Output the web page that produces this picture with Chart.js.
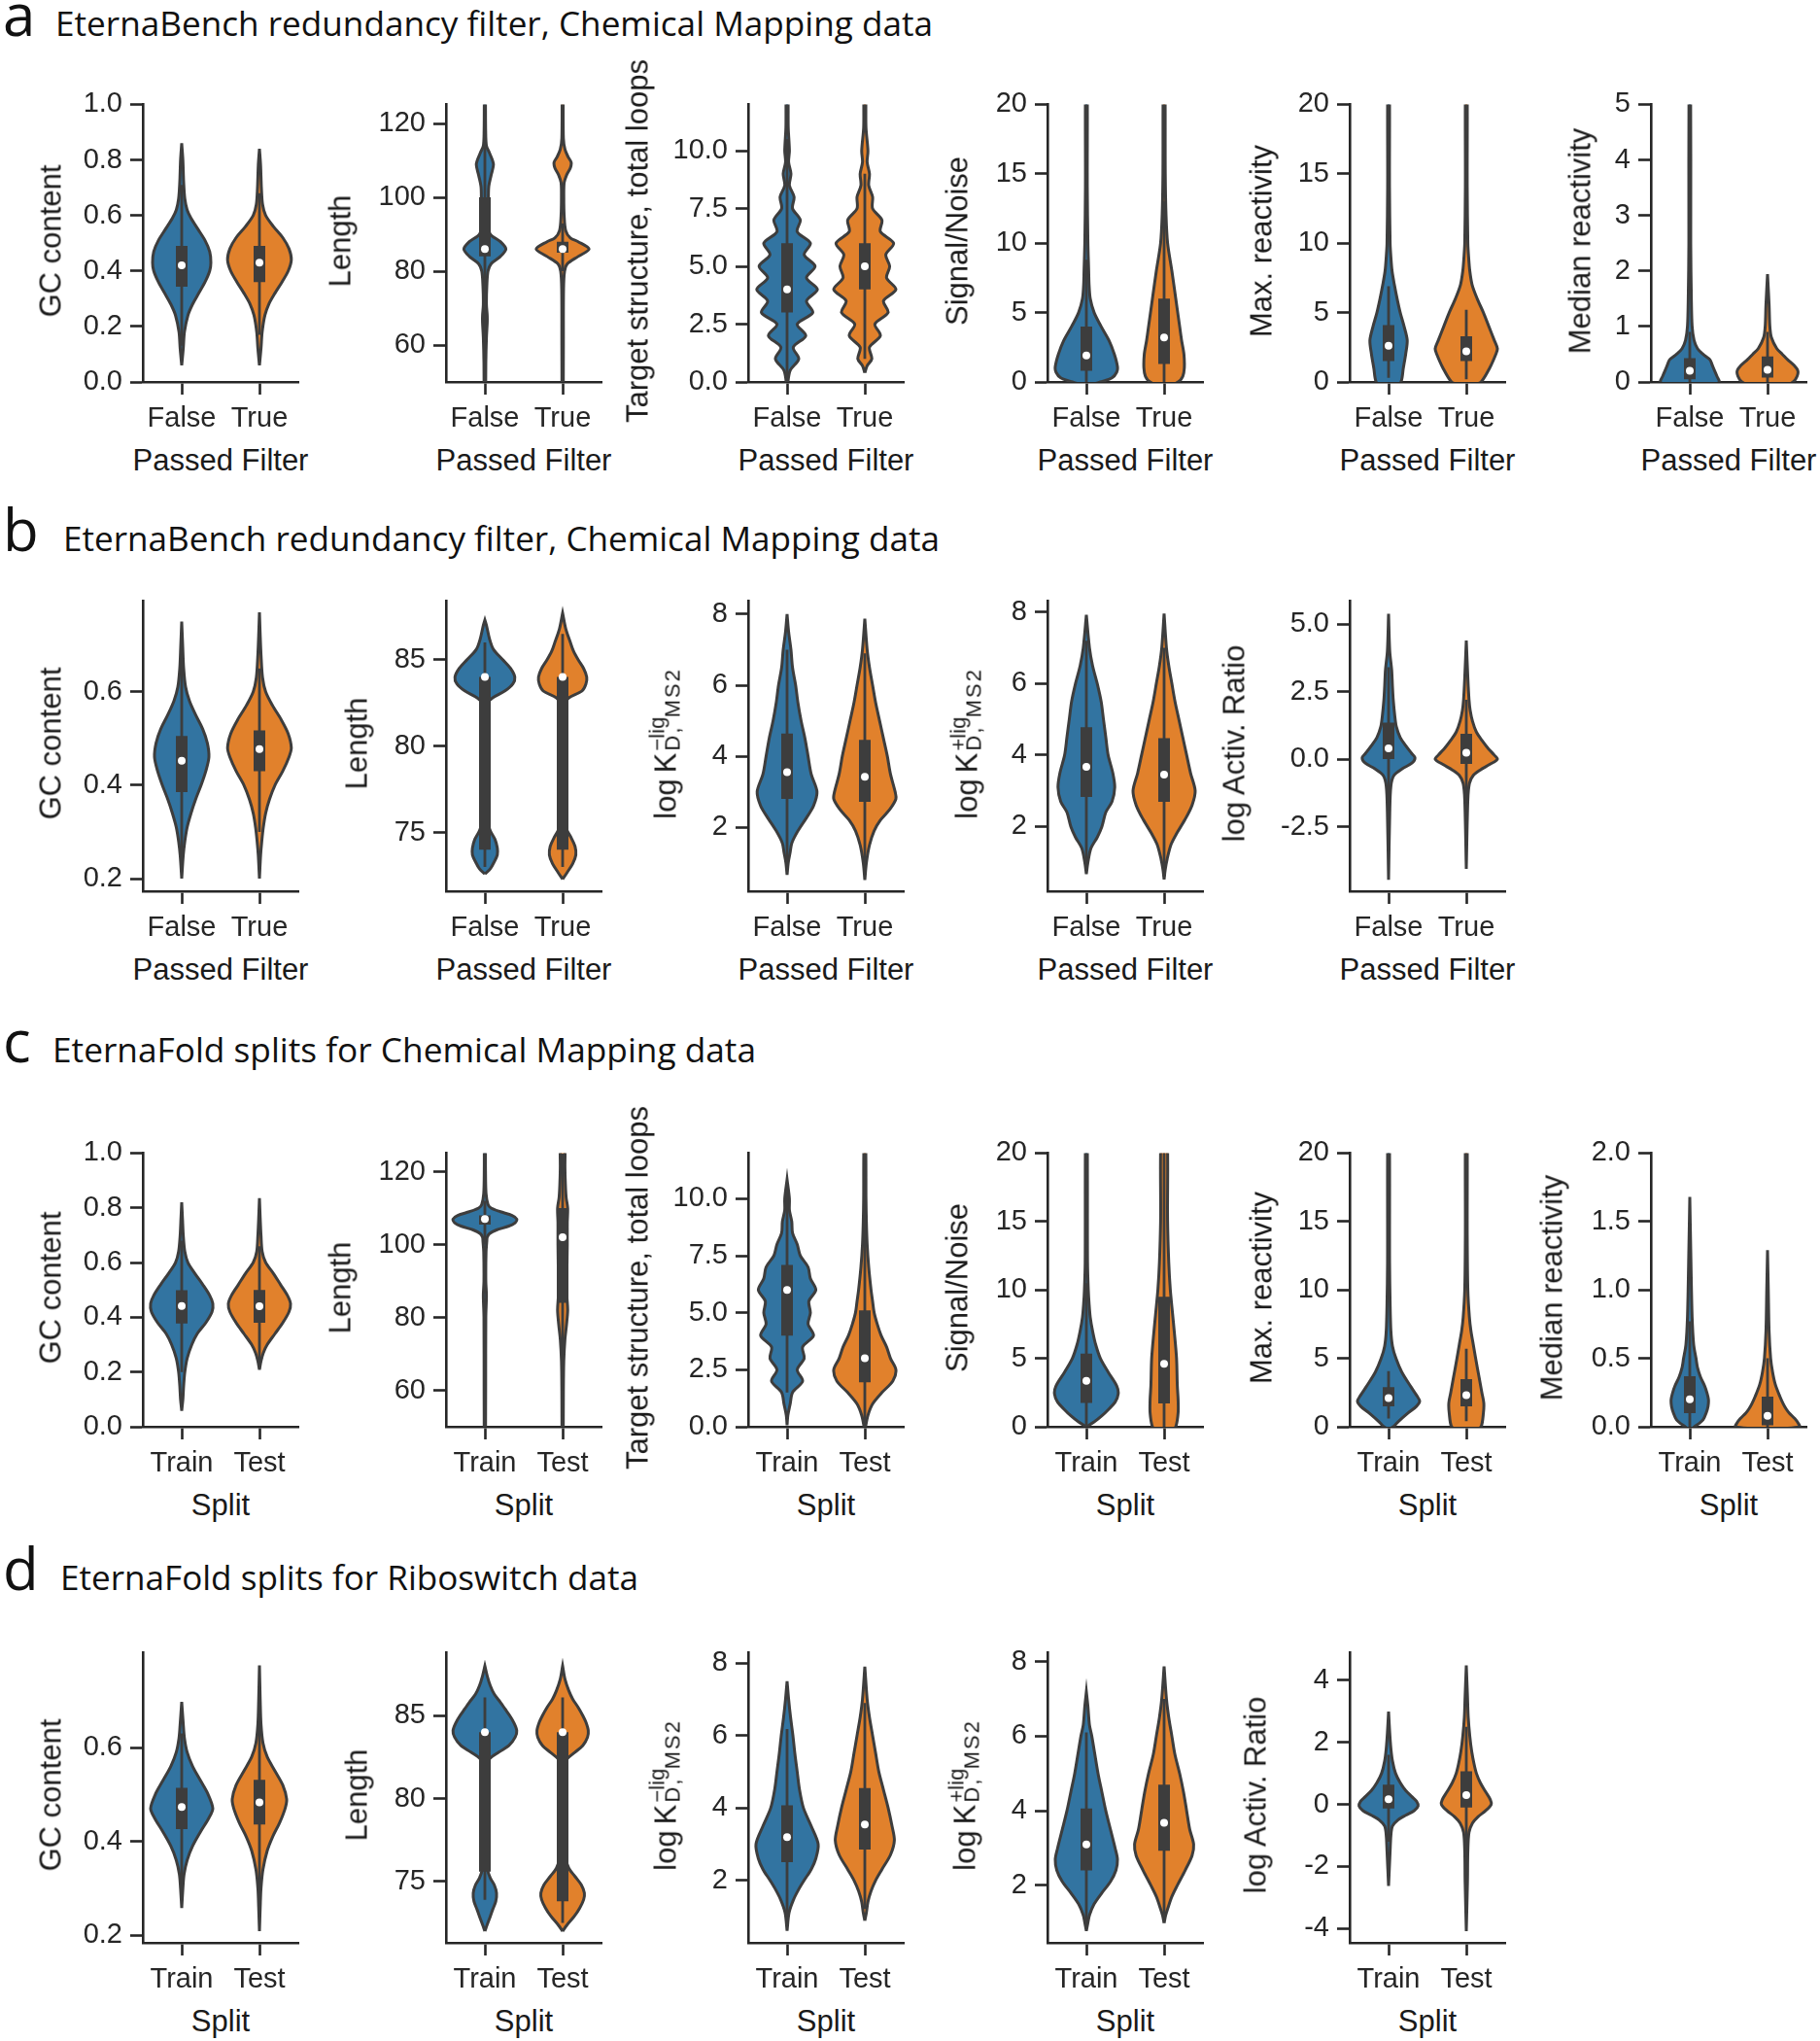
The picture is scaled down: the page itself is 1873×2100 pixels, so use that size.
<!DOCTYPE html>
<html>
<head>
<meta charset="utf-8">
<title>EternaBench / EternaFold violin plots</title>
<script src="https://cdn.jsdelivr.net/npm/chart.js@4.4.1/dist/chart.umd.min.js"></script>
<style>
  body { margin: 0; background: #fff; width: 1873px; height: 2100px; position: relative; overflow: hidden;
         font-family: 'Liberation Sans', Arial, sans-serif; color: #1a1a1a; }
  canvas.panel { position: absolute; }
  .txt { position: absolute; white-space: nowrap; }
  .letter { font-family: 'Open Sans', sans-serif; font-size: 60px; line-height: 60px; color: #111; }
  .rowtitle { font-family: 'Open Sans', sans-serif; font-size: 35px; line-height: 35px; color: #111; transform-origin: 0 0; }
  .ytitle { font-size: 31px; line-height: 31px; height: 31px; transform: translate(-50%, -50%) rotate(-90deg); }
  .xtitle { font-size: 31px; line-height: 31px; transform: translate(-50%, -50%); }
  .ss { display: inline-block; font-size: 22px; line-height: 16px; vertical-align: -4px; margin-left: 2px; }
  .ss span { display: block; }
  .ss span.sub { letter-spacing: 2px; }
</style>
</head>
<body>
<script>
// categories
const passedCats = ['False', 'True'];
const splitCats  = ['Train', 'Test'];

// violin profiles: [value, half width in category units]
// box stats: [whisker low, q1, median, q3, whisker high]

// ---- a: EternaBench filter, chemical mapping
const aGcTicks  = ['0.0', '0.2', '0.4', '0.6', '0.8', '1.0'];
const aGcFalse  = [[0.06,0],[0.12,0.02],[0.18,0.035],[0.24,0.08],[0.28,0.14],[0.32,0.22],[0.36,0.30],[0.40,0.36],[0.43,0.375],[0.47,0.36],[0.51,0.30],[0.55,0.21],[0.59,0.12],[0.62,0.07],[0.66,0.04],[0.72,0.025],[0.80,0.015],[0.86,0]];
const aGcTrue   = [[0.06,0],[0.12,0.02],[0.18,0.035],[0.24,0.07],[0.28,0.12],[0.32,0.20],[0.36,0.29],[0.40,0.37],[0.44,0.41],[0.48,0.38],[0.52,0.30],[0.56,0.18],[0.60,0.08],[0.64,0.04],[0.70,0.025],[0.78,0.015],[0.84,0]];
const aGcBox    = [[0.13,0.343,0.42,0.49,0.71],[0.17,0.36,0.43,0.49,0.68]];

const aLenTicks = ['60', '80', '100', '120'];
const aLenFalse = [[45,0.01],[55,0.012],[62,0.02],[66,0.03],[68,0.03],[71,0.02],[76,0.025],[80,0.04],[82,0.08],[84,0.2],[86,0.27],[88,0.2],[90,0.07],[93,0.04],[97,0.04],[100,0.045],[103,0.05],[106,0.08],[109,0.11],[112,0.06],[114,0.02],[118,0.01],[130,0.005]];
const aLenTrue  = [[45,0.008],[60,0.01],[75,0.012],[80,0.025],[82,0.06],[84,0.2],[86,0.34],[88,0.2],[89,0.1],[91,0.04],[95,0.02],[100,0.015],[104,0.02],[106,0.05],[108,0.1],[109.5,0.11],[111,0.07],[113,0.03],[116,0.01],[130,0.005]];
const aLenBox   = [[60,84,86,100,124],[80,85,86,88,93]];

const aLoopTicks = ['0.0', '2.5', '5.0', '7.5', '10.0'];
const aLoopFalse = [[-0.2,0],[0,0.01],[0.5,0.04],[1,0.15],[1.5,0.08],[2,0.24],[2.5,0.13],[3,0.33],[3.5,0.25],[4,0.39],[4.5,0.25],[5,0.36],[5.5,0.22],[6,0.30],[6.5,0.13],[7,0.17],[7.5,0.07],[8,0.09],[8.5,0.03],[9,0.05],[9.5,0.02],[10,0.03],[11,0.015],[12.5,0.01]];
const aLoopTrue  = [[0.4,0],[0.7,0.03],[1,0.09],[1.5,0.06],[2,0.2],[2.5,0.13],[3,0.30],[3.5,0.24],[4,0.40],[4.5,0.28],[5,0.32],[5.5,0.27],[6,0.37],[6.5,0.2],[7,0.22],[7.5,0.1],[8,0.1],[8.5,0.05],[9,0.06],[9.5,0.03],[10,0.04],[11,0.015],[12.5,0.01]];
const aLoopBox   = [[0,3,4,6,10.5],[1,4,5,6,9]];

const aSnTicks  = ['0', '5', '10', '15', '20'];
const aSnFalse  = [[-0.3,0],[0,0.18],[0.3,0.33],[0.7,0.39],[1.1,0.40],[2,0.36],[3,0.29],[4,0.19],[5,0.1],[6,0.05],[7,0.035],[8,0.03],[10,0.02],[14,0.012],[22,0.01]];
const aSnTrue   = [[-0.5,0],[0,0.18],[0.4,0.24],[1,0.26],[2,0.255],[3,0.225],[4,0.2],[6,0.15],[8,0.1],[10,0.045],[12,0.025],[15,0.015],[22,0.01]];
const aSnBox    = [[0,0.8,1.9,4,8.8],[0,1.3,3.2,6,13]];

const aMaxTicks = ['0', '5', '10', '15', '20'];
const aMaxFalse = [[-0.5,0],[-0.2,0.1],[0,0.16],[1,0.19],[2,0.22],[3,0.24],[4,0.2],[5,0.15],[6,0.11],[7,0.075],[8,0.045],[9,0.03],[10,0.02],[14,0.012],[22,0.01]];
const aMaxTrue  = [[-0.5,0],[-0.2,0.1],[0,0.19],[1,0.3],[2,0.38],[2.4,0.40],[3,0.36],[4,0.29],[5,0.22],[6,0.14],[7,0.075],[8,0.045],[9,0.03],[10,0.02],[14,0.012],[22,0.01]];
const aMaxBox   = [[0.3,1.5,2.6,4.1,6.9],[0.2,1.5,2.2,3.3,5.2]];

const aMedTicks = ['0', '1', '2', '3', '4', '5'];
const aMedFalse = [[-0.15,0],[-0.05,0.3],[0,0.38],[0.1,0.35],[0.2,0.32],[0.3,0.29],[0.4,0.26],[0.5,0.17],[0.6,0.1],[0.75,0.055],[1,0.03],[1.5,0.02],[2.5,0.012],[5.5,0.01]];
const aMedTrue  = [[-0.15,0],[-0.05,0.25],[0,0.33],[0.1,0.38],[0.2,0.39],[0.3,0.34],[0.4,0.26],[0.5,0.19],[0.6,0.12],[0.8,0.05],[1,0.03],[1.4,0.02],[1.94,0]];
const aMedBox   = [[0,0.05,0.2,0.43,0.9],[0,0.08,0.22,0.46,0.9]];

// ---- b: EternaBench filter, riboswitch
const bGcTicks  = ['0.2', '0.4', '0.6'];
const bGcFalse  = [[0.20,0],[0.25,0.02],[0.28,0.04],[0.31,0.07],[0.34,0.12],[0.37,0.18],[0.40,0.25],[0.43,0.31],[0.46,0.35],[0.49,0.33],[0.52,0.27],[0.55,0.18],[0.58,0.1],[0.61,0.05],[0.65,0.025],[0.70,0.012],[0.75,0]];
const bGcTrue   = [[0.20,0],[0.25,0.015],[0.28,0.03],[0.31,0.05],[0.34,0.08],[0.37,0.13],[0.40,0.2],[0.43,0.3],[0.46,0.38],[0.48,0.41],[0.51,0.37],[0.54,0.28],[0.57,0.17],[0.60,0.08],[0.63,0.04],[0.68,0.02],[0.72,0.01],[0.77,0]];
const bGcBox    = [[0.23,0.385,0.452,0.505,0.68],[0.3,0.43,0.477,0.517,0.65]];

const bLenTicks = ['75', '80', '85'];
const bLenFalse = [[72.6,0],[72.9,0.07],[73.3,0.12],[73.7,0.16],[74.1,0.16],[74.6,0.13],[75.1,0.07],[75.7,0.03],[77,0.02],[80,0.015],[82,0.02],[82.5,0.035],[82.8,0.1],[83.2,0.26],[83.6,0.36],[84,0.385],[84.5,0.33],[85,0.23],[85.6,0.11],[86.2,0.06],[87,0.02],[87.3,0]];
const bLenTrue  = [[72.3,0],[72.7,0.06],[73.2,0.13],[73.7,0.17],[74.2,0.16],[74.7,0.11],[75.2,0.05],[76,0.025],[78,0.015],[81,0.015],[82,0.02],[82.5,0.035],[82.8,0.08],[83.2,0.25],[83.6,0.3],[84,0.31],[84.5,0.27],[85,0.2],[85.5,0.14],[86,0.1],[86.8,0.04],[87.7,0]];
const bLenBox   = [[73,74,84,84,86],[73,74,84,84,86.5]];

const bKmTicks  = ['2', '4', '6', '8'];
const bKmFalse  = [[0.66,0],[1,0.015],[1.3,0.04],[1.55,0.06],[1.9,0.14],[2.27,0.25],[2.6,0.34],[3,0.385],[3.5,0.31],[4,0.27],[4.5,0.23],[5,0.18],[5.5,0.14],[6,0.11],[6.5,0.07],[7,0.05],[7.5,0.02],[8,0]];
const bKmTrue   = [[0.52,0],[1,0.02],[1.5,0.06],[1.9,0.12],[2.2,0.2],[2.5,0.32],[2.8,0.4],[3,0.39],[3.5,0.33],[4,0.29],[4.5,0.24],[5,0.19],[5.5,0.14],[6,0.1],[6.5,0.06],[7,0.03],[7.87,0]];
const bKmBox    = [[0.9,2.8,3.55,4.64,7],[0.8,2.72,3.42,4.46,6.9]];

const bKpTicks  = ['2', '4', '6', '8'];
const bKpFalse  = [[0.67,0],[1,0.02],[1.4,0.06],[1.7,0.14],[2,0.2],[2.4,0.25],[2.7,0.33],[3.1,0.365],[3.5,0.34],[4,0.28],[4.5,0.25],[5,0.22],[5.5,0.19],[6,0.14],[6.5,0.08],[7,0.04],[7.92,0]];
const bKpTrue   = [[0.52,0],[0.8,0.015],[1.1,0.04],[1.5,0.09],[1.8,0.16],[2.2,0.27],[2.6,0.36],[3,0.40],[3.5,0.34],[4,0.29],[4.5,0.24],[5,0.19],[5.5,0.14],[6,0.1],[6.5,0.06],[7,0.03],[7.96,0]];
const bKpBox    = [[0.8,2.83,3.67,4.78,7.2],[0.6,2.69,3.45,4.47,7]];

const bArTicks  = ['-2.5', '0.0', '2.5', '5.0'];
const bArFalse  = [[-4.47,0],[-2,0.015],[-1,0.03],[-0.6,0.07],[-0.35,0.18],[-0.15,0.3],[0.05,0.34],[0.2,0.3],[0.5,0.22],[0.8,0.15],[1.2,0.1],[1.6,0.08],[2.2,0.06],[2.7,0.05],[3.3,0.04],[4,0.015],[5.38,0]];
const bArTrue   = [[-4.06,0],[-1.5,0.02],[-0.9,0.04],[-0.6,0.09],[-0.4,0.18],[-0.2,0.3],[0,0.40],[0.15,0.36],[0.4,0.28],[0.7,0.2],[1.0,0.13],[1.4,0.08],[1.8,0.05],[2.2,0.035],[3,0.02],[4.39,0]];
const bArBox    = [[-1.9,0,0.4,1.35,3.4],[-1.6,-0.18,0.235,0.94,2.2]];

// ---- c: EternaFold splits, chemical mapping
const cGcTrain  = [[0.058,0],[0.1,0.015],[0.15,0.025],[0.2,0.04],[0.25,0.07],[0.3,0.13],[0.34,0.2],[0.38,0.31],[0.42,0.39],[0.45,0.4],[0.48,0.36],[0.52,0.27],[0.56,0.17],[0.6,0.08],[0.64,0.04],[0.7,0.02],[0.76,0.01],[0.82,0]];
const cGcTest   = [[0.209,0],[0.24,0.02],[0.27,0.05],[0.3,0.1],[0.34,0.2],[0.38,0.3],[0.42,0.38],[0.45,0.4],[0.48,0.36],[0.52,0.27],[0.56,0.18],[0.6,0.08],[0.64,0.035],[0.7,0.02],[0.76,0.01],[0.835,0]];
const cGcBox    = [[0.2,0.377,0.441,0.499,0.68],[0.22,0.38,0.44,0.5,0.66]];

const cLenTrain = [[45,0.008],[60,0.01],[80,0.012],[86,0.02],[90,0.012],[98,0.015],[101,0.025],[102,0.03],[103,0.06],[104,0.15],[105,0.3],[106,0.39],[107,0.41],[108,0.35],[109,0.2],[110,0.08],[111,0.04],[114,0.015],[120,0.008],[130,0.005]];
const cLenTest  = [[45,0.008],[60,0.01],[68,0.015],[74,0.03],[78,0.05],[82,0.065],[86,0.055],[92,0.055],[100,0.06],[106,0.06],[110,0.065],[113,0.045],[117,0.035],[121,0.03],[130,0.025]];
const cLenBox   = [[100,105.5,107,108,112],[60,84,102,110,125]];

const cLoopTrain = [[0.07,0],[0.5,0.01],[1,0.04],[1.5,0.07],[2,0.2],[2.5,0.13],[3,0.22],[3.5,0.2],[4,0.34],[4.5,0.27],[5,0.3],[5.5,0.28],[6,0.37],[6.5,0.3],[7,0.27],[7.5,0.17],[8,0.13],[8.5,0.07],[9,0.06],[9.5,0.03],[10,0.03],[10.84,0]];
const cLoopTest  = [[-0.3,0],[0,0.01],[0.5,0.04],[1,0.1],[1.5,0.22],[2,0.36],[2.5,0.40],[3,0.33],[3.5,0.28],[4,0.21],[4.5,0.16],[5,0.12],[5.5,0.1],[6,0.08],[7,0.05],[8,0.03],[9,0.02],[10,0.015],[12.5,0.01]];
const cLoopBox   = [[1.5,4,6,7.1,10.5],[0,1.95,3,5.1,9.5]];

const cSnTrain  = [[0,0],[0.35,0.1],[0.8,0.2],[1.3,0.29],[1.8,0.37],[2.4,0.41],[3,0.39],[4,0.28],[5,0.18],[6,0.12],[7,0.08],[8,0.05],[9,0.035],[10,0.025],[12,0.015],[22,0.01]];
const cSnTest   = [[-0.5,0],[-0.2,0.1],[0,0.15],[1,0.18],[2,0.18],[3,0.17],[5,0.16],[7,0.13],[8.2,0.11],[10,0.08],[12,0.06],[15,0.045],[22,0.035]];
const cSnBox    = [[0,1.74,3.36,5.34,10.5],[0,1.7,4.6,9.5,20.5]];

const cMaxTrain = [[-0.2,0],[0,0.06],[0.35,0.12],[1,0.25],[1.5,0.36],[1.86,0.40],[2.3,0.36],[2.9,0.29],[4,0.17],[5,0.095],[5.9,0.05],[7,0.03],[9,0.02],[12,0.013],[22,0.01]];
const cMaxTest  = [[-0.5,0],[-0.2,0.12],[0,0.19],[1,0.22],[1.74,0.225],[2.5,0.2],[3.6,0.165],[5,0.12],[6,0.09],[7,0.06],[8,0.04],[10,0.02],[14,0.012],[22,0.01]];
const cMaxBox   = [[0.6,1.5,2.1,2.9,4.06],[0.4,1.5,2.3,3.48,5.7]];

const cMedTicks = ['0.0', '0.5', '1.0', '1.5', '2.0'];
const cMedTrain = [[-0.03,0],[0,0.06],[0.02,0.11],[0.05,0.17],[0.1,0.21],[0.15,0.235],[0.2,0.24],[0.25,0.22],[0.3,0.19],[0.36,0.14],[0.43,0.1],[0.5,0.08],[0.6,0.05],[0.8,0.03],[1.2,0.015],[1.68,0]];
const cMedTest  = [[-0.02,0],[0,0.41],[0.03,0.39],[0.06,0.35],[0.1,0.28],[0.13,0.24],[0.17,0.2],[0.22,0.16],[0.31,0.1],[0.4,0.065],[0.5,0.04],[0.7,0.02],[1.0,0.01],[1.29,0]];
const cMedBox   = [[0,0.1,0.2,0.37,0.77],[0,0.01,0.08,0.22,0.5]];

// ---- d: EternaFold splits, riboswitch
const dGcTicks  = ['0.2', '0.4', '0.6'];
const dGcTrain  = [[0.258,0],[0.3,0.015],[0.33,0.03],[0.36,0.07],[0.39,0.14],[0.42,0.24],[0.45,0.35],[0.47,0.40],[0.5,0.34],[0.53,0.24],[0.56,0.14],[0.59,0.07],[0.62,0.035],[0.65,0.02],[0.697,0]];
const dGcTest   = [[0.209,0],[0.26,0.01],[0.3,0.02],[0.34,0.045],[0.38,0.1],[0.41,0.17],[0.44,0.26],[0.47,0.33],[0.49,0.35],[0.52,0.3],[0.55,0.2],[0.58,0.1],[0.61,0.045],[0.65,0.02],[0.7,0.01],[0.775,0]];
const dGcBox    = [[0.31,0.426,0.473,0.514,0.63],[0.29,0.436,0.483,0.531,0.67]];

const dLenTicks = ['75', '80', '85'];
const dLenTrain = [[72,0],[72.4,0.03],[72.9,0.07],[73.3,0.1],[73.8,0.14],[74.3,0.15],[74.8,0.12],[75.2,0.07],[75.7,0.035],[77,0.02],[80,0.015],[82,0.02],[82.4,0.06],[82.8,0.18],[83.2,0.31],[83.7,0.39],[84.1,0.41],[84.6,0.37],[85,0.32],[85.4,0.26],[85.8,0.2],[86.3,0.12],[86.8,0.07],[87.4,0.03],[88,0]];
const dLenTest  = [[72,0],[72.4,0.06],[72.9,0.15],[73.4,0.22],[73.9,0.27],[74.3,0.28],[74.8,0.24],[75.3,0.16],[75.8,0.08],[76.4,0.04],[77.5,0.02],[80,0.015],[82,0.02],[82.4,0.06],[82.8,0.16],[83.2,0.26],[83.7,0.32],[84.1,0.33],[84.6,0.3],[85,0.26],[85.5,0.2],[86,0.13],[86.5,0.08],[87.2,0.03],[88,0]];
const dLenBox   = [[73.9,75.6,84,84,86.1],[72.5,73.8,84,84,86.1]];

const dKmTicks  = ['2', '4', '6', '8'];
const dKmTrain  = [[0.6,0],[1.1,0.025],[1.45,0.08],[1.75,0.15],[2,0.22],[2.3,0.31],[2.6,0.37],[3,0.40],[3.5,0.31],[4,0.21],[4.5,0.16],[5,0.13],[5.5,0.1],[6,0.075],[6.5,0.045],[7,0.02],[7.5,0]];
const dKmTest   = [[0.88,0],[1.1,0.02],[1.4,0.04],[1.7,0.08],[2,0.14],[2.3,0.22],[2.7,0.33],[3.1,0.38],[3.5,0.35],[4,0.3],[4.5,0.24],[5,0.18],[5.5,0.14],[6,0.1],[6.5,0.06],[7,0.03],[7.9,0]];
const dKmBox    = [[1,2.5,3.19,4.07,6.18],[1.2,2.85,3.54,4.55,6.9]];

const dKpTicks  = ['2', '4', '6', '8'];
const dKpTrain  = [[0.78,0],[1.0,0.02],[1.2,0.04],[1.5,0.1],[1.8,0.2],[2.1,0.31],[2.4,0.38],[2.7,0.4],[3,0.37],[3.5,0.31],[4,0.25],[4.5,0.2],[5,0.15],[5.5,0.11],[6,0.07],[6.3,0.04],[6.8,0.02],[7.19,0]];
const dKpTest   = [[0.99,0],[1.2,0.02],[1.4,0.05],[1.7,0.1],[2,0.17],[2.4,0.27],[2.8,0.36],[3.1,0.38],[3.5,0.33],[4,0.29],[4.5,0.25],[5,0.2],[5.5,0.14],[6,0.1],[6.5,0.06],[7,0.03],[7.87,0]];
const dKpBox    = [[0.9,2.4,3.1,4.06,6.1],[1.2,2.93,3.68,4.7,7]];

const dArTicks  = ['-4', '-2', '0', '2', '4'];
const dArTrain  = [[-2.63,0],[-1.5,0.02],[-1,0.03],[-0.7,0.05],[-0.5,0.12],[-0.35,0.22],[-0.2,0.33],[-0.05,0.38],[0.1,0.36],[0.25,0.3],[0.45,0.22],[0.7,0.15],[1,0.09],[1.4,0.05],[1.8,0.03],[2.3,0.015],[2.99,0]];
const dArTest   = [[-4.08,0],[-2.5,0.015],[-1.5,0.02],[-0.9,0.035],[-0.6,0.08],[-0.4,0.15],[-0.2,0.25],[0,0.32],[0.15,0.31],[0.4,0.25],[0.7,0.18],[1,0.13],[1.3,0.1],[1.7,0.07],[2.2,0.045],[2.8,0.025],[3.5,0.015],[4.48,0]];
const dArBox    = [[-1.2,-0.13,0.17,0.64,1.6],[-1.7,-0.1,0.3,1.07,2.5]];

// axis titles
const logKMinus = 'log&#8201;K<span class="ss"><span>&minus;lig</span><span class="sub">D, MS2</span></span>';
const logKPlus  = 'log&#8201;K<span class="ss"><span>+lig</span><span class="sub">D, MS2</span></span>';

// ---- layout (pixels)
const COLORS = ['#3274a1', '#e1812c'];
const EDGE = '#3d3d3d';
const AXIS = '#262626';
const FONT = "'Liberation Sans', Arial, sans-serif";
const colX = [147, 459, 770, 1078, 1389, 1699];
const rowGeo = { a: [102, 393], b: [613, 917], c: [1181, 1468], d: [1695, 1999] };
const Y_W = 100, PAD_T = 20, PAD_R = 15, X_H = 60;

const rowTitles = [
  { row: 'a', letter: 'a', text: 'EternaBench redundancy filter, Chemical Mapping data', base: 37, x: 57, end: 960, xtitle: 'Passed Filter' },
  { row: 'b', letter: 'b', text: 'EternaBench redundancy filter, Chemical Mapping data', base: 567, x: 65, end: 967, xtitle: 'Passed Filter' },
  { row: 'c', letter: 'c', text: 'EternaFold splits for Chemical Mapping data', base: 1093, x: 54, end: 778, xtitle: 'Split' },
  { row: 'd', letter: 'd', text: 'EternaFold splits for Riboswitch data', base: 1636, x: 62, end: 657, xtitle: 'Split' }
];

const panels = [
  { row: 'a', col: 0, cats: passedCats, ticks: aGcTicks,   range: [0, 1],        v: [aGcFalse, aGcTrue],     box: aGcBox,   title: 'GC content', tx: 52 },
  { row: 'a', col: 1, cats: passedCats, ticks: aLenTicks,  range: [50, 125.2],   v: [aLenFalse, aLenTrue],   box: aLenBox,  title: 'Length', tx: 350 },
  { row: 'a', col: 2, cats: passedCats, ticks: aLoopTicks, range: [0, 12],       v: [aLoopFalse, aLoopTrue], box: aLoopBox, title: 'Target structure, total loops', tx: 656 },
  { row: 'a', col: 3, cats: passedCats, ticks: aSnTicks,   range: [0, 20],       v: [aSnFalse, aSnTrue],     box: aSnBox,   title: 'Signal/Noise', tx: 985 },
  { row: 'a', col: 4, cats: passedCats, ticks: aMaxTicks,  range: [0, 20],       v: [aMaxFalse, aMaxTrue],   box: aMaxBox,  title: 'Max. reactivity', tx: 1298 },
  { row: 'a', col: 5, cats: passedCats, ticks: aMedTicks,  range: [0, 5],        v: [aMedFalse, aMedTrue],   box: aMedBox,  title: 'Median reactivity', tx: 1626 },

  { row: 'b', col: 0, cats: passedCats, ticks: bGcTicks,   range: [0.173, 0.794], v: [bGcFalse, bGcTrue],    box: bGcBox,   title: 'GC content', tx: 52 },
  { row: 'b', col: 1, cats: passedCats, ticks: bLenTicks,  range: [71.6, 88.4],  v: [bLenFalse, bLenTrue],   box: bLenBox,  title: 'Length', tx: 367 },
  { row: 'b', col: 2, cats: passedCats, ticks: bKmTicks,   range: [0.2, 8.37],   v: [bKmFalse, bKmTrue],     box: bKmBox,   title: logKMinus, tx: 684 },
  { row: 'b', col: 3, cats: passedCats, ticks: bKpTicks,   range: [0.19, 8.31],  v: [bKpFalse, bKpTrue],     box: bKpBox,   title: logKPlus, tx: 994 },
  { row: 'b', col: 4, cats: passedCats, ticks: bArTicks,   range: [-4.89, 5.85], v: [bArFalse, bArTrue],     box: bArBox,   title: 'log Activ. Ratio', tx: 1270 },

  { row: 'c', col: 0, cats: splitCats, ticks: aGcTicks,    range: [0, 1],        v: [cGcTrain, cGcTest],     box: cGcBox,   title: 'GC content', tx: 52 },
  { row: 'c', col: 1, cats: splitCats, ticks: aLenTicks,   range: [50, 125.1],   v: [cLenTrain, cLenTest],   box: cLenBox,  title: 'Length', tx: 350 },
  { row: 'c', col: 2, cats: splitCats, ticks: aLoopTicks,  range: [0, 12],       v: [cLoopTrain, cLoopTest], box: cLoopBox, title: 'Target structure, total loops', tx: 656 },
  { row: 'c', col: 3, cats: splitCats, ticks: aSnTicks,    range: [0, 20],       v: [cSnTrain, cSnTest],     box: cSnBox,   title: 'Signal/Noise', tx: 985 },
  { row: 'c', col: 4, cats: splitCats, ticks: aMaxTicks,   range: [0, 20],       v: [cMaxTrain, cMaxTest],   box: cMaxBox,  title: 'Max. reactivity', tx: 1298 },
  { row: 'c', col: 5, cats: splitCats, ticks: cMedTicks,   range: [0, 2],        v: [cMedTrain, cMedTest],   box: cMedBox,  title: 'Median reactivity', tx: 1597 },

  { row: 'd', col: 0, cats: splitCats, ticks: dGcTicks,    range: [0.184, 0.802], v: [dGcTrain, dGcTest],    box: dGcBox,   title: 'GC content', tx: 52 },
  { row: 'd', col: 1, cats: splitCats, ticks: dLenTicks,   range: [71.3, 88.8],  v: [dLenTrain, dLenTest],   box: dLenBox,  title: 'Length', tx: 367 },
  { row: 'd', col: 2, cats: splitCats, ticks: dKmTicks,    range: [0.27, 8.29],  v: [dKmTrain, dKmTest],     box: dKmBox,   title: logKMinus, tx: 684 },
  { row: 'd', col: 3, cats: splitCats, ticks: dKpTicks,    range: [0.46, 8.24],  v: [dKpTrain, dKpTest],     box: dKpBox,   title: logKPlus, tx: 992 },
  { row: 'd', col: 4, cats: splitCats, ticks: dArTicks,    range: [-4.46, 4.89], v: [dArTrain, dArTest],     box: dArBox,   title: 'log Activ. Ratio', tx: 1292 }
];

// violin outline: up the left side, back down the right side
function violinShape(profile, idx) {
  const left  = profile.map(([y, w]) => ({ x: idx - w, y }));
  const right = profile.slice().reverse().map(([y, w]) => ({ x: idx + w, y }));
  return left.concat(right);
}

function addText(cls, html, left, top) {
  const el = document.createElement('div');
  el.className = 'txt ' + cls;
  el.innerHTML = html;
  el.style.left = left + 'px';
  el.style.top = top + 'px';
  document.body.appendChild(el);
  return el;
}

function makePanel(p) {
  const [top, bottom] = rowGeo[p.row];
  const axisX = colX[p.col];
  const cv = document.createElement('canvas');
  cv.className = 'panel';
  cv.width = Y_W + 160 + PAD_R;
  cv.height = PAD_T + (bottom - top) + X_H;
  cv.style.left = (axisX - Y_W) + 'px';
  cv.style.top = (top - PAD_T) + 'px';
  document.body.appendChild(cv);

  const datasets = [];
  p.v.forEach((prof, i) => {
    datasets.push({
      data: violinShape(prof, i), borderColor: EDGE, borderWidth: 3, backgroundColor: COLORS[i],
      fill: 'shape', tension: 0.3, pointRadius: 0, order: 3, clip: 0
    });
  });
  p.box.forEach(([lo, q1, med, q3, hi], i) => {
    datasets.push({ data: [{ x: i, y: lo }, { x: i, y: hi }], borderColor: EDGE, borderWidth: 2.8,
      pointRadius: 0, fill: false, order: 2, clip: 0 });
    datasets.push({ data: [{ x: i, y: q1 }, { x: i, y: q3 }], borderColor: EDGE, borderWidth: 12,
      borderCapStyle: 'butt', pointRadius: 0, fill: false, order: 1, clip: 0 });
    datasets.push({ data: [{ x: i, y: med }], showLine: false, pointRadius: 4, pointBackgroundColor: '#fff',
      pointBorderWidth: 0, order: 0 });
  });

  const tickVals = p.ticks.map(Number);
  const gridCfg = { drawOnChartArea: false, drawTicks: true, tickLength: 13, tickWidth: 2.6, tickColor: AXIS };
  const borderCfg = { display: true, color: AXIS, width: 2.6 };
  const tickFont = { family: FONT, size: 29 };

  new Chart(cv, {
    type: 'line',
    data: { datasets },
    options: {
      responsive: false, animation: false, events: [],
      layout: { padding: { top: PAD_T, right: PAD_R, left: 0, bottom: 0 } },
      plugins: { legend: { display: false }, tooltip: { enabled: false } },
      scales: {
        x: {
          type: 'linear', min: -0.5, max: 1.5,
          afterBuildTicks: s => { s.ticks = [{ value: 0 }, { value: 1 }]; },
          afterFit: s => { s.height = X_H; },
          ticks: { callback: v => p.cats[v], font: tickFont, color: AXIS, padding: 8, maxRotation: 0, autoSkip: false },
          grid: gridCfg, border: borderCfg
        },
        y: {
          type: 'linear', min: p.range[0], max: p.range[1],
          afterBuildTicks: s => { s.ticks = tickVals.map(v => ({ value: v })); },
          afterFit: s => { s.width = Y_W; },
          ticks: { callback: (v, i) => p.ticks[i], font: tickFont, color: AXIS, padding: 8, autoSkip: false },
          grid: gridCfg, border: borderCfg
        }
      }
    }
  });

  addText('ytitle', p.title, p.tx, (top + bottom) / 2);
}

panels.forEach(makePanel);

// row titles, letters and x axis titles
rowTitles.forEach(r => {
  addText('letter', r.letter, 3, r.base - 0.888 * 60);
  const t = addText('rowtitle', r.text, r.x, r.base - 0.888 * 35);
  const w = t.getBoundingClientRect().width;
  t.style.transform = 'scaleX(' + ((r.end - r.x) / w).toFixed(4) + ')';
  const bottom = rowGeo[r.row][1];
  colX.forEach((x, c) => {
    if (panels.some(p => p.row === r.row && p.col === c)) addText('xtitle', r.xtitle, x + 80, bottom + 80);
  });
});
</script>
</body>
</html>
